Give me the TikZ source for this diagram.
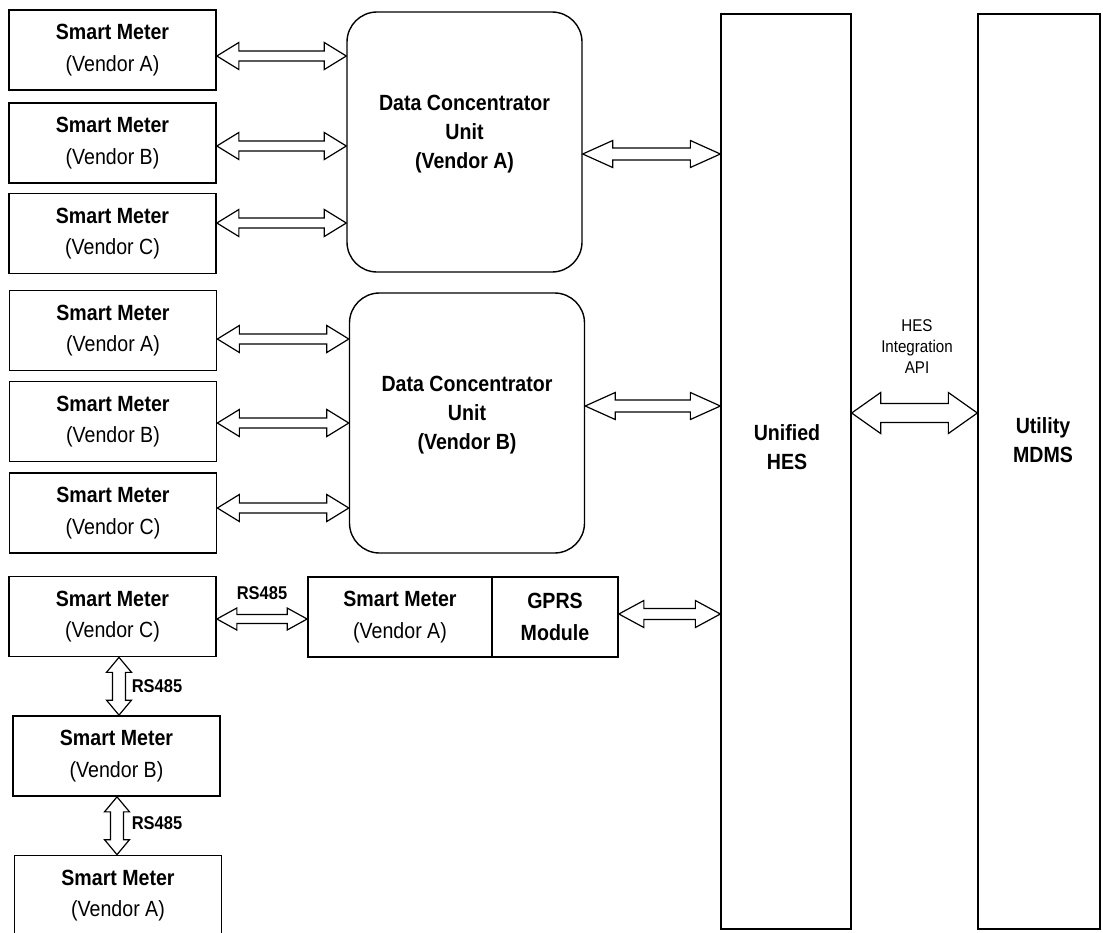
\documentclass[tikz,border=0pt]{standalone}
\usepackage{fontspec}
\setmainfont[FakeStretch=0.89]{Liberation Sans}
\usetikzlibrary{calc}

\begin{document}
\begin{tikzpicture}[x=1pt,y=-1pt,
  meter/.style={draw,line width=1.7pt,minimum width=207pt,minimum height=80pt,inner sep=0pt,
    align=center,font=\fontsize{22}{31.5}\selectfont},
  dcu/.style={draw,line width=1.4pt,rounded corners=30pt,minimum width=235pt,minimum height=260pt},
  tall/.style={draw,line width=1.3pt,minimum height=915pt},
  big/.style={align=center,font=\fontsize{22}{29}\selectfont\bfseries},
  rs/.style={font=\fontsize{18.5}{22}\selectfont\bfseries},
  harr/.style n args={3}{line width=1.2pt,to path={let \p1=(\tikztostart),\p2=(\tikztotarget) in
    (\x1,\y1) -- (\x1+#3,\y1+#2) -- (\x1+#3,\y1+#1) -- (\x2-#3,\y1+#1) -- (\x2-#3,\y1+#2) -- (\x2,\y1)
    -- (\x2-#3,\y1-#2) -- (\x2-#3,\y1-#1) -- (\x1+#3,\y1-#1) -- (\x1+#3,\y1-#2) -- cycle}},
  varr/.style n args={3}{line width=1.2pt,to path={let \p1=(\tikztostart),\p2=(\tikztotarget) in
    (\x1,\y1) -- (\x1+#2,\y1-#3) -- (\x1+#1,\y1-#3) -- (\x1+#1,\y2+#3) -- (\x1+#2,\y2+#3) -- (\x1,\y2)
    -- (\x1-#2,\y2+#3) -- (\x1-#1,\y2+#3) -- (\x1-#1,\y1-#3) -- (\x1-#2,\y1-#3) -- cycle}},
  lnk/.style={harr={5pt}{13.5pt}{22pt}}]
\useasboundingbox (0,0) rectangle (1103,932);

% meters on the left
\node[meter] (m1) at (112.5,50) {\textbf{Smart Meter}\\(Vendor A)};
\node[meter] (m2) at (112.5,143) {\textbf{Smart Meter}\\(Vendor B)};
\node[meter] (m3) at (112.5,233.5) {\textbf{Smart Meter}\\(Vendor C)};
\node[meter] (m4) at (113,330.5) {\textbf{Smart Meter}\\(Vendor A)};
\node[meter] (m5) at (113,421.5) {\textbf{Smart Meter}\\(Vendor B)};
\node[meter] (m6) at (113,513) {\textbf{Smart Meter}\\(Vendor C)};
\node[meter] (m7) at (112.5,616.5) {\textbf{Smart Meter}\\(Vendor C)};
\node[meter] (m8) at (116.5,756) {\textbf{Smart Meter}\\(Vendor B)};
\node[meter] (m9) at (118,895.5) {\textbf{Smart Meter}\\(Vendor A)};
\node[meter,minimum width=184pt] (smA) at (400,617) {\textbf{Smart Meter}\\(Vendor A)};
\node[meter,minimum width=126pt] (gprs) at (555,617) {\textbf{GPRS}\\\textbf{Module}};

% concentrators, HES, MDMS
\node[dcu] (dcuA) at (464.5,142) {};
\node[big] (dcuAtxt) at (464.5,134) {Data Concentrator\\Unit\\(Vendor A)};
\node[dcu] (dcuB) at (467,423) {};
\node[big] (dcuBtxt) at (467,415) {Data Concentrator\\Unit\\(Vendor B)};
\node[tall,minimum width=130pt] (hes) at (786,471.5) {};
\node[big] (hestxt) at (787,447) {Unified\\HES};
\node[tall,minimum width=122pt] (mdms) at (1039,471.5) {};
\node[big] (mdmstxt) at (1043,440) {Utility\\MDMS};
\node[align=center,font=\fontsize{17}{21}\selectfont] (api) at (917,347) {HES\\Integration\\API};

% links
\draw[lnk] ([yshift=-6pt]m1.east) to (dcuA.west);
\draw[lnk] ([yshift=-3pt]m2.east) to (dcuA.west);
\draw[lnk] ([yshift=10.5pt]m3.east) to (dcuA.west);
\draw[lnk] ([yshift=-8.5pt]m4.east) to (dcuB.west);
\draw[lnk] ([yshift=-1.5pt]m5.east) to (dcuB.west);
\draw[lnk] ([yshift=5pt]m6.east) to (dcuB.west);
\draw[harr={6pt}{13.5pt}{30pt}] ([yshift=-12pt]dcuA.east) to (hes.west);
\draw[harr={6pt}{13.5pt}{30pt}] ([yshift=17pt]dcuB.east) to (hes.west);
\draw[harr={5.5pt}{13.5pt}{25pt}] ([yshift=3pt]gprs.east) to (hes.west);
\draw[harr={9.5pt}{20.5pt}{29pt}] ([yshift=58.5pt]hes.east) to (mdms.west);

% RS485 daisy chain
\draw[harr={4.5pt}{11pt}{20pt}] ([yshift=-2.5pt]m7.east) to (smA.west);
\node[rs] (rs1) at (262,593) {RS485};
\draw[varr={6.5pt}{12.5pt}{15pt}] ([xshift=6.5pt]m7.south) to (m8.north);
\node[rs] (rs2) at (157,686) {RS485};
\draw[varr={6.5pt}{12.5pt}{15pt}] ([xshift=0.5pt]m8.south) to (m9.north);
\node[rs] (rs3) at (157,823) {RS485};
\end{tikzpicture}
\end{document}
